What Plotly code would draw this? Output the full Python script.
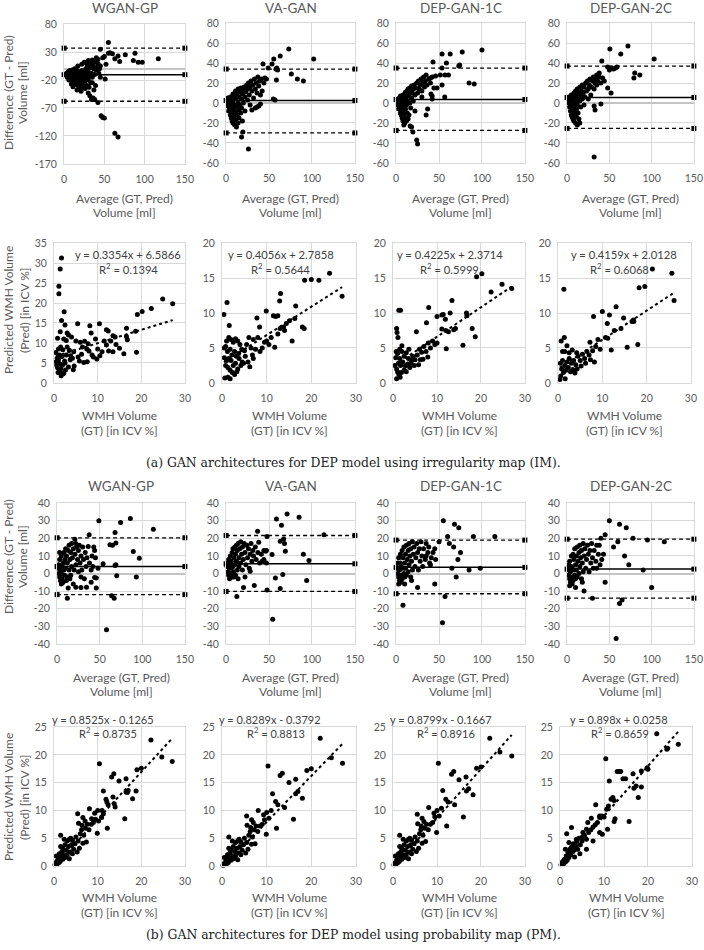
import plotly.graph_objects as go

W, H = 704, 950

# ------------------------------------------------------------------ data
models = ["WGAN-GP", "VA-GAN", "DEP-GAN-1C", "DEP-GAN-2C"]

# Bland-Altman lines: (upper limit, mean difference, lower limit)
im_ba_lines = [(37, -10.5, -58), (34, 2.5, -30), (35, 3.5, -27.5), (37, 5.5, -25.5)]
pm_ba_lines = [(20.3, 4, -12), (21.6, 5.5, -10.2), (19, 3.5, -11.5), (19.5, 2.5, -14)]

im_reg_slope = [0.3354, 0.4056, 0.4225, 0.4159]
im_reg_icpt = [6.5866, 2.7858, 2.3714, 2.0128]
im_reg_r2 = [0.1394, 0.5644, 0.5999, 0.6068]
pm_reg_slope = [0.8525, 0.8289, 0.8799, 0.898]
pm_reg_icpt = [-0.1265, -0.3792, -0.1667, 0.0258]
pm_reg_r2 = [0.8735, 0.8813, 0.8916, 0.8659]

ba_x_ticks = [0, 50, 100, 150]
im_ba_y_ticks_wgan = [80, 30, -20, -70, -120, -170]
im_ba_y_ticks = [80, 60, 40, 20, 0, -20, -40, -60]
pm_ba_y_ticks = [40, 30, 20, 10, 0, -10, -20, -30, -40]
reg_x_ticks = [0, 10, 20, 30]
im_reg_y_ticks_wgan = [0, 5, 10, 15, 20, 25, 30, 35]
im_reg_y_ticks = [0, 5, 10, 15, 20]
pm_reg_y_ticks = [0, 5, 10, 15, 20, 25]

# ---- (a) IM, Bland-Altman points (average, difference)
im_ba_wgan = [(55,47),(45,35),(57,29),(55,28),(60,27),(63,18),(67,23),(76,25),(69,13),(88,28),(86,15),(92,12),(97,12),(117,18),
    (48,20),(42,17),(38,12),(40,20),(35,16),(50,22),(52,8),(45,5),(42,10),
    (45,-15),(51,-18),(30,-43),(32,-48),(34,-55),(38,-55),(36,-52),(42,-60),(46,-84),(48,-87),(50,-88),(63,-115),(67,-122),
    (24,-31),(20,-35),(15,-25),
    (3,-8),(5,-5),(6,-12),(7,-3),(8,-15),(8,-8),(9,-20),(10,-10),(10,-2),(11,-18),(12,-25),(12,-5),(13,-12),(14,-28),(14,-20),
    (15,-8),(15,-15),(16,-3),(17,-22),(17,-30),(18,-12),(18,-18),(19,-6),(20,-25),(20,-15),(21,-10),(22,-20),(22,-3),(23,-28),
    (24,-12),(25,-18),(25,-5),(26,-22),(27,0),(27,-10),(28,-15),(29,5),(30,-5),(30,-20),(31,-12),(32,2),(33,-25),(33,8),(34,-8),
    (35,-15),(36,5),(37,0),(38,-10),(39,-30),(40,-2),(41,3),(43,-8),(44,0),(4,-15),(6,-20),(9,-27),(11,-32),(16,-38),(19,-32),
    (21,-40),(26,-35),(28,-30),(31,-33),(35,-25),(37,-38),(7,-10),(13,0),(17,5),(22,8),(25,12),(30,15),(28,10),(33,12)]
im_ba_vagan = [(73,54),(63,47),(55.5,44),(102,44),(53.5,39),(43,39),(49,35),(58,34),(59,35),(60,33),(76,29),(83,24),(90,22),
    (58.6,23),(55,4),(57,3),(18,-34),(19.5,-29),(26,-46),(34,-5),(30,-7),(38,-3),
    (1,2),(2,-3),(2,5),(3,-8),(3,0),(4,-5),(4,3),(5,-12),(5,-2),(5,6),(6,-15),(6,-8),(6,1),(7,-18),(7,-4),(7,5),(8,-20),(8,-10),
    (8,2),(8,9),(9,-14),(9,-6),(9,4),(10,-22),(10,-2),(10,8),(11,-17),(11,-9),(11,12),(12,-24),(12,-4),(12,5),(13,-12),(13,10),
    (14,-20),(14,0),(14,14),(15,-15),(15,-7),(15,6),(16,-2),(16,11),(17,-10),(17,15),(18,-5),(18,4),(19,9),(19,-18),(20,13),
    (20,0),(21,16),(22,6),(22,-8),(23,11),(24,18),(25,3),(25,14),(26,20),(27,8),(28,16),(28,-2),(29,22),(30,12),(31,18),(32,5),
    (33,24),(34,14),(35,20),(36,10),(37,26),(38,17),(39,22),(40,8),(41,24),(42,12),(44,20),(45,25),(47,24),(36,-4),(40,-1)]
im_ba_dep1 = [(100,53),(53.5,49),(63,49),(77,51),(43,41),(58.6,40),(53.5,35),(73,37),(74,38),(51.5,28),(57,28),(61,28),(40,25),
    (85,20),(91,19),(53.5,18),(47.6,15),(40.6,9),(42,7),(56.6,6),(42,4),(36.7,-6),(35,-12),(22,-8),(16.4,-23),(18,-24),
    (19.5,-29),(24,-37),(25,-41),
    (1,2),(2,-2),(2,4),(3,-6),(3,1),(4,-4),(4,5),(5,-10),(5,0),(5,7),(6,-12),(6,-5),(6,3),(7,-15),(7,-2),(7,6),(8,-18),(8,-8),
    (8,1),(8,8),(9,-12),(9,-4),(9,4),(10,-20),(10,0),(10,9),(11,-15),(11,-6),(11,11),(12,-2),(12,6),(13,-10),(13,12),(14,-16),
    (14,2),(14,14),(15,-12),(15,8),(16,0),(16,15),(17,-5),(17,12),(18,5),(18,17),(19,10),(20,14),(20,2),(21,18),(22,8),(23,15),
    (24,20),(25,10),(26,22),(27,14),(28,18),(29,24),(30,12),(31,20),(32,26),(33,16),(34,22),(35,28),(36,18),(38,24),(40,20),
    (42,26),(44,15),(46,27),(30,6),(9,-22),(12,-18)]
im_ba_dep2 = [(72,57),(63.5,49),(50.6,54),(103,44),(41,42),(48,36),(52,35),(55,34),(57,35),(59,36),(50,33),(79,25),(80,30),
    (86,28),(35,28),(38,30),(48,15),(52,10),(40,-1),(32,-3),(33,-7),(32,-54),(42,25),(44,22),
    (1,4),(2,0),(2,6),(3,-4),(3,2),(4,-8),(4,4),(5,-12),(5,-2),(5,8),(6,-14),(6,-5),(6,3),(7,-16),(7,-3),(7,7),(8,-18),(8,-8),
    (8,2),(8,10),(9,-12),(9,-4),(9,6),(10,-20),(10,0),(10,12),(11,-14),(11,-6),(11,8),(12,-2),(12,14),(13,-10),(13,4),(14,-16),
    (14,10),(15,-20),(15,2),(15,16),(16,-4),(16,8),(17,12),(18,4),(18,18),(19,10),(20,16),(21,6),(22,20),(23,12),(24,22),
    (25,14),(26,18),(27,24),(28,8),(29,16),(30,22),(31,26),(32,14),(33,20),(34,24),(35,18),(36,22),(38,26),(40,20),(25,4),
    (12,-22),(20,-2)]

# ---- (a) IM, regression points (GT, Pred)
im_reg_wgan = [(1.7,31.3),(1.4,28.5),(1.1,24.2),(1.1,22.3),(2.3,17.8),(1.7,15.6),(0.8,11.2),(1.4,12.8),(24.9,21),(27.2,19.8),
    (22.3,18.6),(20.2,17.9),(19.1,17.1),(16.6,13.7),(18.7,12.9),(16.8,10.8),(16.6,11.6),(18.9,7.7),(16,7.3),(5.4,14.8),
    (8.2,14.3),(10.4,14.8),(12,13.3),(12.4,13),(13.5,11.8),(14,11.5),(2.5,14.5),(3,12.5),(2.2,11),(4,11.5),(3.3,12),(5,10.5),
    (6,10.2),(7,10.4),(6.5,9),(7.5,8.5),(8,8),(9,6.5),(10,8.5),(10.5,6.8),(11,7.8),(11.5,10.5),(12,9.5),(12.5,8),(13,10.5),
    (13.5,7.8),(14.2,9.6),(15,8.7),(9.5,11),(8.5,12.5),(7.8,9.8),(5.5,6.5),(6.3,7.2),(4.5,7.8),(4.2,6.2),(3.7,5.8),(3.5,8.2),
    (3,9),(2.8,7),(2.4,5.5),(2,8.3),(1.8,6.6),(1.5,9),(1.3,4.8),(1,8.5),(1.2,7),(0.7,6.2),(0.5,5.3),(0.6,4.5),(0.8,3.8),(1,5.8),
    (1.5,3.5),(1.9,4.4),(2.2,2.4),(1.6,1.8),(2,2.2),(0.9,2.6),(2.6,3.2),(3.3,4),(4.4,3.3),(4.6,4.2),(5.8,5.5),(6.8,5.1),
    (7.6,5.3),(8.7,7),(9.8,6),(2.5,5),(1.2,3),(0.4,7.6),(2.8,10.6),(3.8,6.8)]
im_reg_vagan = [(1.1,11.5),(0.4,9.8),(1.6,8.2),(13.1,12.8),(12.9,11.7),(9.9,10.3),(11.5,9.6),(12,9.5),(12.5,9.6),(7.8,9.3),
    (8.4,8),(16.5,11),(18.5,14.7),(20,14.8),(21.7,14.7),(24.1,15.7),(26.9,12.4),(16.3,9.2),(14.4,8.5),(15.1,8.9),(18,8),
    (18.4,7.8),(15.7,6),(14,7.5),(13.8,8),(11.8,5.1),(10,6),(10.5,5.5),(11,6.5),(9.5,5.8),(12.5,7),(13,7.8),(8,6.5),(7,6.2),
    (6,6.5),(5.5,5.5),(6.5,5),(7.5,4.8),(6.8,4),(5.2,3.8),(5,4.6),(4.5,3),(4,5.5),(3.5,6),(3,6.3),(2.5,5.8),(2,6.2),(1.5,6.5),
    (1,6),(0.8,5.2),(0.5,5),(1.2,4.5),(1.8,4.8),(2.2,4),(2.8,4.5),(3.2,3.8),(3.8,3.5),(4.2,2.5),(3.5,2),(3,2.8),(2.5,2.5),
    (2,3.2),(1.5,3.5),(1,3.2),(0.5,3.6),(0.8,2.5),(1.3,2.2),(1.8,1.8),(2.3,1.5),(2.8,1.2),(3.3,1.6),(0.6,0.7),(1.3,0.8),
    (1.8,0.6),(4.8,2.8),(5.8,3),(6.2,2.3),(7,3.5),(8.5,4.5),(9,5),(3.7,4.2),(4.4,4.8)]
im_reg_dep1 = [(1.3,10.4),(1.7,10.4),(0.8,7.8),(0.9,7.2),(1.1,6.5),(19,15.2),(20.2,15.6),(24.8,14.1),(22.3,13),(27,13.5),
    (13.4,11.8),(8.1,10.8),(10,9.5),(11.4,9.8),(11.1,9.7),(13,10),(16.7,10),(16.8,9.6),(11.9,9.1),(5.3,7.3),(7.6,8.6),
    (11.1,7.7),(12,7.5),(12.6,7.3),(13.8,7.6),(14.2,7.8),(15.9,5.4),(18,7.8),(18.7,6.6),(12.1,4.9),(10,5.7),(7.9,3.7),(9,6),
    (9.5,5.5),(8.5,5),(7,5.2),(6.5,4.4),(6,4.8),(5.5,4),(7.5,4.5),(8,5.7),(6.8,3.4),(5,3.3),(4.5,3.8),(4,2.8),(3.5,3.5),(3,4.3),
    (2.5,3.8),(2,4.5),(1.5,3.5),(1,4.2),(0.6,3.6),(0.4,2.5),(0.8,2),(1.2,2.8),(1.7,2.5),(2.2,3),(2.8,2.4),(3.3,2.7),(3.8,2.2),
    (4.3,3.2),(4.8,2.5),(2.5,1.8),(1.9,1.5),(1.3,1.2),(0.8,0.6),(1.6,0.8),(3,1.6),(2,5.3),(1.5,4.8),(0.7,4.5),(5.8,2.6),
    (6.2,3.3),(1,1.6),(3.6,4.8)]
im_reg_dep2 = [(1.3,13.4),(21.3,16.3),(25.7,15.7),(18.3,13.6),(19.6,13.8),(26.2,11.8),(8,9.5),(10,10.2),(13.1,10.9),
    (11.6,9.7),(11.1,8.5),(14.8,9.3),(16.7,8.8),(17,9),(17.1,8.8),(14.2,7.8),(12.7,7.5),(10.7,6.5),(11.2,6.4),(18,5.5),
    (15.6,5.1),(12,4.7),(7.2,5.8),(1.4,6.5),(0.7,6),(9,6.2),(8.5,5.2),(7.8,4.6),(7,4),(6.5,4.5),(6,3.5),(5.5,4.1),(5,3.2),
    (4.5,3.8),(4,2.6),(3.5,3.2),(3,2.8),(2.5,3.5),(2,3),(1.5,2.5),(1,3.2),(0.5,2.8),(0.8,2),(1.2,1.5),(1.8,1.8),(2.3,2.2),
    (2.8,1.6),(3.3,1.9),(3.8,1.4),(4.3,2),(5.2,2.4),(6.2,2.8),(1.5,4.5),(2,5.3),(2.5,4.3),(1,4.5),(0.6,1),(1.6,0.6),(0.4,0.5),
    (3.2,4.7),(4.2,4.3),(7.3,3.3),(8.2,3),(9.5,4.8)]

# ---- (b) PM, Bland-Altman points
pm_ba_wgan = [(49,30),(74.5,29),(86,31.3),(113,25.2),(37.6,22),(68,23.3),(20.8,19.5),(62,16.3),(65,16),(69,17.3),(89.4,12.5),
    (96.5,8.7),(36.5,15.4),(44,13),(43,15),(54,5.5),(68,4.5),(69,5),(70,-1.3),(93,-2),(44,-2.3),(46,-2.5),(46,-8.3),(64,-12.7),
    (67,-14),(13,-8.3),(22,-7.8),(28,-8),(34.5,-7.8),(58,-32),(12,-14),
    (1,3),(2,0),(2,5),(3,-2),(3,8),(4,2),(4,-4),(5,0),(5,10),(6,-3),(6,4),(7,6),(7,-5),(8,2),(8,12),(9,-1),(9,8),(10,14),(10,3),
    (11,-4),(11,10),(12,6),(12,-2),(13,13),(14,2),(14,16),(15,8),(15,-3),(16,12),(17,4),(17,17),(18,9),(19,-6),(19,14),(20,2),
    (21,11),(22,17),(22,5),(23,15),(24,8),(25,1),(25,13),(26,16),(27,6),(28,10),(29,2),(30,15),(31,8),(32,-3),(33,12),(34,4),
    (35,9),(38,6),(40,2),(41,10),(42,4),(45,9),(48,3),(40,-5),(5,-6),(3,12),(16,-1),(28,-2)]
pm_ba_vagan = [(71,33.8),(85,32),(58.6,31),(64.5,27.4),(47.7,21),(36.7,24),(67,19.6),(68,17),(63,18.3),(114,22),(69,12.6),
    (90,11),(96.5,7.4),(53.5,10.8),(44,13),(46,12.6),(47,13),(38,17.7),(57.4,-2.5),(66,-0.6),(93.8,-4),(63,-8.5),(47.7,-9.4),
    (32.8,-6.8),(20.3,-8),(12.5,-13),(54.3,-26),(22,-2),(28,1.3),
    (1,4),(2,1),(2,6),(3,-1),(3,8),(4,3),(4,-3),(5,5),(5,10),(6,0),(6,7),(7,12),(7,-2),(8,4),(8,14),(9,1),(9,9),(10,15),(10,5),
    (11,-1),(11,11),(12,7),(12,16),(13,2),(13,13),(14,17),(15,9),(15,4),(16,14),(17,6),(17,18),(18,11),(19,2),(19,15),(20,8),
    (21,17),(22,12),(23,5),(24,16),(25,9),(26,14),(27,3),(28,11),(29,17),(30,7),(31,13),(32,10),(34,15),(35,8),(37,12),(39,6),
    (41,11),(42,7),(44,8),(47,6),(4,-1),(6,3),(9,-2),(14,-3)]
pm_ba_dep1 = [(55,30),(68,28),(73,26),(60,21),(90,21),(115,21),(50,18),(62,17),(67,15),(45,14),(38,15),(75,12),(72,8),(98,3),
    (85,2),(57,-13),(54,-28),(8,-18),(25,-8),(45,-6),(70,-2),(65,3),(40,5),(35,10),
    (1,3),(2,0),(2,6),(3,-2),(3,9),(4,2),(4,-4),(5,6),(5,11),(6,-1),(6,4),(7,13),(7,-3),(8,3),(8,9),(9,0),(9,15),(10,6),(10,-2),
    (11,11),(11,3),(12,16),(12,-1),(13,8),(14,13),(14,1),(15,17),(15,5),(16,10),(17,-2),(17,14),(18,7),(19,18),(19,2),(20,11),
    (21,15),(22,4),(23,9),(24,17),(25,12),(26,2),(27,14),(28,7),(29,18),(30,10),(31,4),(32,14),(34,8),(35,17),(37,12),(39,6),
    (41,9),(43,12),(46,8),(3,-6),(6,-5),(10,-6),(18,-4)]
pm_ba_dep2 = [(50,30),(62,28),(70,26),(78,20),(95,19),(115,18),(45,22),(60,18),(55,15),(40,20),(38,16),(68,10),(73,5),(90,2),
    (100,-8),(62,-17),(58,-37),(65,-15),(30,-14),(20,-10),(45,-5),(35,3),
    (1,2),(2,-1),(2,5),(3,-3),(3,7),(4,1),(4,-5),(5,4),(5,10),(6,-2),(6,3),(7,11),(7,-4),(8,2),(8,8),(9,-1),(9,14),(10,5),(10,-3),
    (11,10),(11,2),(12,15),(12,-2),(13,7),(14,12),(14,0),(15,16),(15,4),(16,9),(17,-3),(17,13),(18,6),(19,17),(19,1),(20,10),
    (21,14),(22,3),(23,8),(24,16),(25,11),(26,1),(27,13),(28,6),(29,17),(30,9),(31,3),(32,13),(34,7),(35,16),(37,11),(39,5),
    (41,8),(43,11),(3,-7),(6,-6),(10,-8),(18,-5)]

# ---- (b) PM, regression points
pm_reg_wgan = [(22.2,22.7),(24.7,19.6),(27.1,18.8),(19,17.3),(20,17.6),(10.4,18.4),(13.2,16),(13.7,16.6),(14.9,15.3),
    (16.5,15.7),(16.5,13.3),(17,13.6),(16.8,13.2),(18.8,13.5),(18,12.1),(16.2,8.5),(11.3,13.5),(11.9,12),(12.1,11.5),
    (12.4,11),(13.5,12.4),(13.8,11.2),(14,10.6),(8.1,10.3),(11,10),(11.3,9.4),(8.6,8.5),(9.5,8.4),(10.2,8.1),(10.9,8.7),
    (12.2,6.8),(9.9,5.9),(5.4,9.4),(6.6,8.7),(7.1,8.1),(5.6,7.7),(6.4,7.3),(7.4,4.3),(5.3,2.5),(1.5,5.5),
    (0.2,0.2),(0.4,0.6),(0.6,0.3),(0.8,1),(1,0.5),(1,1.5),(1.2,2.2),(1.4,0.8),(1.6,1.8),(1.8,2.6),(2,1.2),(2,3.2),(2.2,2),
    (2.5,3.8),(2.6,1.5),(2.8,2.8),(3,4.5),(3,2),(3.3,3.5),(3.5,4.8),(3.7,2.5),(4,3.8),(4.2,4.6),(4.5,3),(4.8,4),(5,5.2),
    (5.5,4.5),(6,5.8),(6.3,6.5),(6.8,5.5),(7.2,6.8),(7.6,7.5),(8,6.5),(8.5,7.5),(9,7.8),(9.3,9.5),(10,10),(2.3,4.8),(1.5,3.5),
    (0.5,1.8),(3.5,1.3),(4.2,2.2),(5.8,3.2),(6.6,4.1),(3.8,5)]
pm_reg_vagan = [(22,23),(24.5,19.5),(27,18.5),(10.3,18),(13,16.3),(13.5,16.7),(16.5,15.6),(19,17.2),(20,17.5),(15,15),
    (16.5,13),(17,13.4),(18,12.2),(16,8.4),(11.3,13),(12,11.6),(12.5,11),(14,10.5),(11,10),(8.1,10),(9.5,8.3),(10.5,8.6),
    (12.2,6.8),(9.9,5.7),(5.5,9),(6.6,8.3),(7,7.8),(5.6,7.3),(6.4,6.9),(7.4,4),(5.3,2.3),(1.5,5.2),
    (0.2,0.1),(0.4,0.4),(0.6,0.2),(0.8,0.8),(1,0.4),(1,1.3),(1.2,2),(1.4,0.6),(1.6,1.6),(1.8,2.4),(2,1),(2,3),(2.2,1.8),
    (2.5,3.5),(2.6,1.3),(2.8,2.6),(3,4.2),(3,1.8),(3.3,3.2),(3.5,4.5),(3.7,2.3),(4,3.5),(4.2,4.3),(4.5,2.8),(4.8,3.8),(5,5),
    (5.5,4.2),(6,5.5),(6.3,6.2),(6.8,5.2),(7.2,6.5),(7.6,7.2),(8,6.2),(8.5,7.2),(9,7.5),(9.3,9.2),(10,9.6),(2.3,4.5),(1.5,3.2),
    (0.5,1.5),(3.5,1.1),(4.2,2),(5.8,3),(6.6,3.9),(3.8,4.8)]
pm_reg_dep1 = [(22,23),(24.3,20.5),(27,19.8),(10.3,18.5),(13.3,16.5),(13.8,17),(16.6,16),(19,17.6),(20,17.8),(15,15.5),
    (16.7,13.5),(17.2,13.9),(18.2,12.8),(16,8.8),(11.3,13.6),(12,12),(12.5,11.5),(14,11),(11,10.4),(8.1,10.5),(9.5,8.8),
    (10.5,9),(12.2,7.2),(9.9,6),(5.5,9.3),(6.6,8.6),(7,8),(5.6,7.6),(6.4,7.2),(7.4,4.4),(5.3,2.6),(1.5,5.5),
    (0.2,0.2),(0.4,0.5),(0.6,0.3),(0.8,1),(1,0.5),(1,1.5),(1.2,2.2),(1.4,0.8),(1.6,1.8),(1.8,2.6),(2,1.2),(2,3.2),(2.2,2),
    (2.5,3.8),(2.6,1.5),(2.8,2.8),(3,4.5),(3,2),(3.3,3.5),(3.5,4.8),(3.7,2.5),(4,3.8),(4.2,4.6),(4.5,3),(4.8,4),(5,5.2),
    (5.5,4.5),(6,5.8),(6.3,6.5),(6.8,5.5),(7.2,6.8),(7.6,7.5),(8,6.5),(8.5,7.5),(9,7.8),(9.3,9.5),(10,10),(2.3,4.8),(1.5,3.5),
    (0.5,1.8),(3.5,1.3),(4.2,2.2),(5.8,3.2),(6.6,4.1),(3.8,5)]
pm_reg_dep2 = [(22,23.8),(26.9,21.9),(24.3,21),(24.5,21.2),(20,17.4),(19.8,17.7),(18.5,17.1),(10.4,19.3),(11.2,15.3),(13,17),
    (13.4,17),(13.8,17),(16.6,16.6),(14.3,15.7),(14.9,15.7),(16.8,14),(17.3,14.4),(18.5,14.2),(17.8,12.3),(15.7,8),(11.6,12),
    (12,12.3),(12.3,11.8),(10.6,10.2),(11,10.8),(8.1,11),(9,8.7),(9.5,9),(10,8.8),(12.5,8.5),(12.3,8),(10.8,6.6),(9.6,5.7),
    (7.1,8.6),(6.3,7.8),(5.2,6),(6,6.6),(2.6,6.9),(1.5,5.8),(3.7,4.8),(4.9,5.1),
    (0.2,0.2),(0.4,0.5),(0.6,0.8),(0.8,0.4),(1,1.2),(1.2,0.7),(1.4,1.8),(1.6,1),(1.8,2.4),(2,1.5),(2.2,3),(2.4,2),(2.6,3.4),
    (2.8,2.5),(3,4),(3.2,2.8),(3.5,3.6),(3.8,4.4),(4,3),(4.3,5),(4.6,3.8),(5,4.5),(5.5,5.5),(6,4.8),(6.5,6),(7,6.5),(7.5,7),
    (8,7.4),(8.5,7.8),(9,9),(2,4.2),(1.2,3),(3.3,1.6),(4.5,2.2),(6,3),(7.5,4.5),(9,6)]

im_ba_pts = [im_ba_wgan, im_ba_vagan, im_ba_dep1, im_ba_dep2]
im_reg_pts = [im_reg_wgan, im_reg_vagan, im_reg_dep1, im_reg_dep2]
pm_ba_pts = [pm_ba_wgan, pm_ba_vagan, pm_ba_dep1, pm_ba_dep2]
pm_reg_pts = [pm_reg_wgan, pm_reg_vagan, pm_reg_dep1, pm_reg_dep2]

# ------------------------------------------------------------------ layout (pixels)
rows_y = [(23, 163), (243, 383), (503, 644), (727, 866)]
cols_x = [
    [(64, 185), (226, 355), (396, 525), (567, 694)],
    [(54, 185), (222, 356), (393, 525), (558, 691)],
    [(57, 185), (226, 355), (396, 525), (567, 694)],
    [(54, 185), (222, 356), (393, 525), (560, 692)],
]
FONT = "Lato"
TXT = "#595959"
GRID = "#d9d9d9"

def px(x):
    return x / W

def py(y):
    return 1 - y / H

fig = go.Figure()
layout = dict(template="none", width=W, height=H, margin=dict(l=0, r=0, t=0, b=0, pad=0), autosize=False,
              paper_bgcolor="white", plot_bgcolor="white", showlegend=False)
annotations = []

def tick_text(vals):
    return [str(v) for v in vals]

def padded(r):
    eps = (r[1] - r[0]) * 0.0008
    return [r[0] - eps, r[1] + eps]

def add_axes(k, xd, yd, xr, xt, yr, yt, zero):
    sfx = "" if k == 1 else str(k)
    common = dict(showgrid=True, gridcolor=GRID, gridwidth=1, showline=True, linecolor=GRID, mirror=True,
                  ticks="", tickfont=dict(family=FONT, size=10.5, color=TXT), tickmode="array",
                  fixedrange=True, automargin=False, ticklabeloverflow="allow")
    layout["xaxis" + sfx] = dict(domain=[px(xd[0]), px(xd[1])], range=padded(xr), tickvals=xt,
                                 ticktext=tick_text(xt), anchor="y" + sfx, zeroline=False,
                                 ticklabelstandoff=5, **common)
    layout["yaxis" + sfx] = dict(domain=[py(yd[1]), py(yd[0])], range=padded(yr), tickvals=yt,
                                 ticktext=tick_text(yt), anchor="x" + sfx, zeroline=zero,
                                 zerolinecolor="#c4c4c4", zerolinewidth=1.5, ticklabelstandoff=4, **common)
    return ("x" + sfx, "y" + sfx)

def ann(text, x, y, size=12, angle=0, family=FONT, color=TXT):
    annotations.append(dict(text=text, x=px(x), y=py(y), xref="paper", yref="paper", showarrow=False,
                            xanchor="center", yanchor="middle", textangle=angle,
                            font=dict(family=family, size=size, color=color)))

def add_ba(k, xd, yd, pts, lines, yr, yt):
    xa, ya = add_axes(k, xd, yd, [0, 150], ba_x_ticks, yr, yt, True)
    fig.add_trace(go.Scatter(x=[p[0] for p in pts], y=[p[1] for p in pts], mode="markers", xaxis=xa, yaxis=ya,
                             marker=dict(size=5, color="black"), cliponaxis=False))
    up, mean, lo = lines
    for val, dash, w in [(up, "4px,3px", 1.3), (mean, "solid", 1.5), (lo, "4px,3px", 1.3)]:
        fig.add_trace(go.Scatter(x=[ba_x_ticks[0], ba_x_ticks[-1]], y=[val, val], mode="lines+markers",
                                 xaxis=xa, yaxis=ya, line=dict(color="black", width=w, dash=dash),
                                 marker=dict(symbol="square", size=5, color="black"), cliponaxis=False))

def add_reg(k, xd, yd, pts, slope, icpt, yr, yt):
    xa, ya = add_axes(k, xd, yd, [0, 30], reg_x_ticks, yr, yt, False)
    xs = [p[0] for p in pts]
    fig.add_trace(go.Scatter(x=xs, y=[p[1] for p in pts], mode="markers", xaxis=xa, yaxis=ya,
                             marker=dict(size=5, color="black"), cliponaxis=False))
    x0, x1 = min(xs), max(xs)
    fig.add_trace(go.Scatter(x=[x0, x1], y=[slope * x0 + icpt, slope * x1 + icpt], mode="lines",
                             xaxis=xa, yaxis=ya, line=dict(color="black", width=2, dash="dot")))

def eq_text(s, b):
    sign = "+" if b >= 0 else "-"
    return f"y = {s:g}x {sign} {abs(b):g}"

k = 1
# row 1 : IM Bland-Altman
for i in range(4):
    yr = [-170, 80] if i == 0 else [-60, 80]
    yt = im_ba_y_ticks_wgan if i == 0 else im_ba_y_ticks
    yd = (24, 164) if i == 0 else rows_y[0]
    add_ba(k, cols_x[0][i], yd, im_ba_pts[i], im_ba_lines[i], yr, yt)
    cx = sum(cols_x[0][i]) / 2
    ann(models[i], cx, 8, size=13.5)
    ann("Average (GT, Pred)", cx, 199)
    ann("Volume [ml]", cx, 212)
    k += 1
# row 2 : IM regression
im_eq_pos = [(128, 255, 128, 268), (281, 254, 280, 268), (450, 254, 449, 268), (624, 254, 619, 268)]
for i in range(4):
    yr = [0, 35] if i == 0 else [0, 20]
    yt = im_reg_y_ticks_wgan if i == 0 else im_reg_y_ticks
    add_reg(k, cols_x[1][i], rows_y[1], im_reg_pts[i], im_reg_slope[i], im_reg_icpt[i], yr, yt)
    cx = sum(cols_x[1][i]) / 2
    ann("WMH Volume", cx, 415)
    ann("(GT) [in ICV %]", cx, 430)
    e = im_eq_pos[i]
    ann(eq_text(im_reg_slope[i], im_reg_icpt[i]), e[0], e[1], size=11.2, color="#404040")
    ann(f"R<sup>2</sup> = {im_reg_r2[i]:g}", e[2], e[3], size=11.2, color="#404040")
    k += 1
# row 3 : PM Bland-Altman
for i in range(4):
    add_ba(k, cols_x[2][i], rows_y[2], pm_ba_pts[i], pm_ba_lines[i], [-40, 40], pm_ba_y_ticks)
    cx = sum(cols_x[2][i]) / 2
    ann(models[i], cx, 486, size=13.5)
    ann("Average (GT, Pred)", cx, 677)
    ann("Volume [ml]", cx, 691)
    k += 1
# row 4 : PM regression
pm_eq_pos = [(103, 719, 108, 732), (270, 719, 276, 732), (441, 719, 446, 732), (619, 719, 620, 732)]
for i in range(4):
    add_reg(k, cols_x[3][i], rows_y[3], pm_reg_pts[i], pm_reg_slope[i], pm_reg_icpt[i], [0, 25], pm_reg_y_ticks)
    cx = sum(cols_x[3][i]) / 2
    ann("WMH Volume", cx, 897)
    ann("(GT) [in ICV %]", cx, 912)
    e = pm_eq_pos[i]
    ann(eq_text(pm_reg_slope[i], pm_reg_icpt[i]), e[0], e[1], size=11, color="#404040")
    ann(f"R<sup>2</sup> = {pm_reg_r2[i]:g}", e[2], e[3], size=11, color="#404040")
    k += 1

# y-axis titles (two lines each)
for cy, l1, l2, xa, xb in [(93, "Difference (GT - Pred)", "Volume [ml]", 8, 22),
                           (310, "Predicted WMH Volume", "(Pred) [in ICV %]", 8, 24),
                           (557, "Difference (GT - Pred)", "Volume [ml]", 8, 22),
                           (797, "Predicted WMH Volume", "(Pred) [in ICV %]", 8, 24)]:
    ann(l1, xa, cy, angle=-90)
    ann(l2, xb, cy, angle=-90)

# captions
ann("(a) GAN architectures for DEP model using irregularity map (IM).", 353, 462, size=12.4,
    family="DejaVu Serif", color="#222222")
ann("(b) GAN architectures for DEP model using probability map (PM).", 353, 934, size=12.4,
    family="DejaVu Serif", color="#222222")

layout["annotations"] = annotations
fig.update_layout(**layout)
# remove the browser's default 8px page margin so the 704x950 figure fills the window exactly
fig.write_html("out.html", config={"displayModeBar": False},
               post_script="document.body.style.margin='0';document.body.style.overflow='hidden';")
